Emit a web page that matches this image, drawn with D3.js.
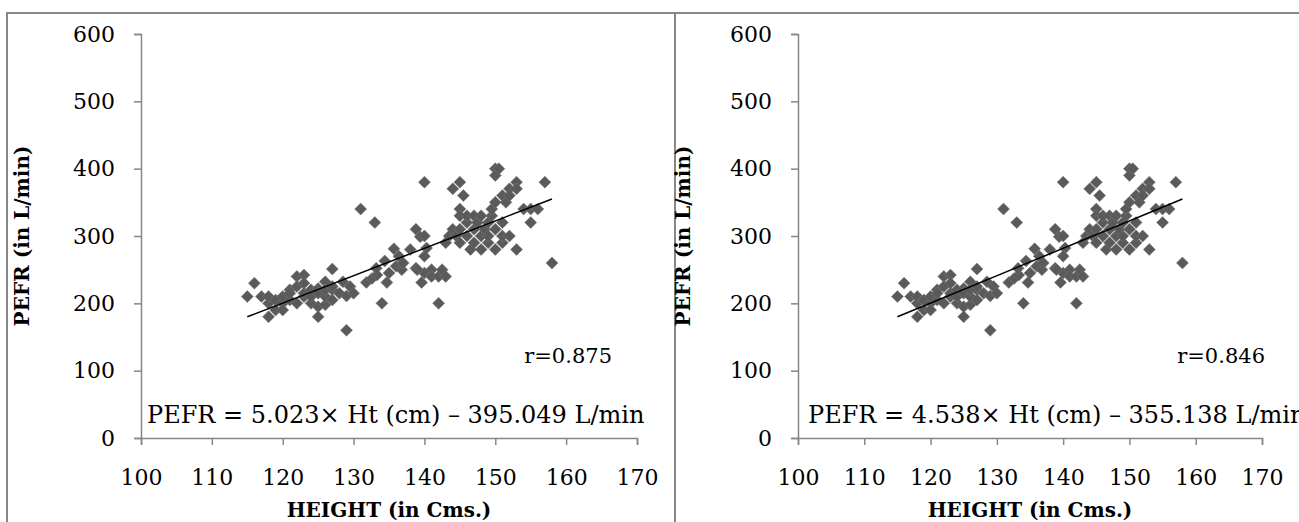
<!DOCTYPE html>
<html>
<head>
<meta charset="utf-8">
<script src="https://cdn.jsdelivr.net/npm/d3@7"></script>
<style>
    body { margin: 0; background: #fff; }
    svg { display: block; }
    text { font-family: "DejaVu Serif", serif; fill: #000; }
    .axis path, .axis line { stroke: #868686; stroke-width: 1.5; }
    .axis text { font-size: 22px; font-family: "DejaVu Serif", serif; }
    .axisLabel { font-size: 20px; font-weight: bold; }
</style>
</head>
<body>
<div id="chart"></div>
<script>

/*
DATA
*/
const heights = [115,116,117,118,118,118,119,119,120,120,120,121,121,121,122,122,122,123,123,123,123,124,124,124,125,125,125,125,126,126,126,126,127,127,127,127,128.5,129,128,129,129.5,130,
    131,131.8,132.6,133,133.3,133.2,134,134.4,134.7,135,135.7,136,136.4,136.8,137,138,138.8,138.8,139.4,139.6,140,140,140.3,140,140,139,
    141,141,142,142,142.5,143,143,143.5,144,144,144.5,145,145,145,145,145,145.5,146,146,146,146.5,147,147,147,147.5,148,148,148,148.5,149,149,149,149.5,149.5,150,150,150,150,150,150.5,151,151,151,151,151.5,152,152,152,153,153,153,154,155,155,156,157,158];
const pefr = [210,230,210,200,180,210,205,190,200,190,210,220,205,215,240,200,225,242,230,210,215,220,200,210,222,215,195,180,232,198,210,220,220,251,205,225,232,160,215,211,225,215,
    340,231,237,320,242,252,200,263,231,245,281,255,270,250,260,280,310,252,299,231,380,300,282,270,245,250,
    250,240,240,200,250,240,290,300,310,370,300,380,340,330,310,290,360,320,300,330,280,330,310,290,320,300,330,280,310,320,290,300,330,340,400,390,350,310,280,400,360,320,290,300,350,370,300,360,380,280,370,340,340,320,340,380,260];

const xTicks = [100,110,120,130,140,150,160,170];
const yTicks = [0,100,200,300,400,500,600];

// trend line end points (height, pefr)
const trendX = [115, 158];
const trendY = [180, 355];

const equations = ["PEFR = 5.023\u00d7 Ht (cm) \u2013 395.049 L/min", "PEFR = 4.538\u00d7 Ht (cm) \u2013 355.138 L/min"];
const rLabels = ["r=0.875", "r=0.846"];

/*
LAYOUT
*/
const width = 1299;
const height = 522;

const panels = [
    {left: 7, right: 675, x0: 141, x1: 637, titleX: 22, eqX: 147, rX: 612},
    {left: 675, right: 1310, x0: 798, x1: 1262, titleX: 683, eqX: 808, rX: 1265}
];
const plotTop = 34, plotBottom = 438;

const svg = d3.select("#chart")
    .append("svg")
    .attr("width", width)
    .attr("height", height);

const data = heights.map(function(h, i) { return {h: h, p: pefr[i]}; });

panels.forEach(function(pn, k) {

    // frame
    svg.append("path")
        .attr("d", `M${pn.left},${height + 5}V13H${pn.right}V${height + 5}`)
        .attr("fill", "none")
        .attr("stroke", "#878787")
        .attr("stroke-width", 2);

    const xScale = d3.scaleLinear()
        .domain([100, 170])
        .range([pn.x0, pn.x1]);

    const yScale = d3.scaleLinear()
        .domain([0, 600])
        .range([plotBottom, plotTop]);

    const xAxis = svg.append("g")
        .attr("class", "axis")
        .attr("transform", `translate(0,${plotBottom})`)
        .call(d3.axisBottom(xScale).tickValues(xTicks).tickSize(7).tickSizeOuter(7).tickPadding(24));

    const yAxis = svg.append("g")
        .attr("class", "axis")
        .attr("transform", `translate(${pn.x0},0)`)
        .call(d3.axisLeft(yScale).tickValues(yTicks).tickSize(7).tickSizeOuter(7).tickPadding(19));

    svg.selectAll(".axis text").attr("fill", "#000");

    // points
    svg.append("g")
        .selectAll("path")
        .data(data)
        .enter()
        .append("path")
            .attr("d", d3.symbol().type(d3.symbolSquare).size(72))
            .attr("transform", function(d) { return `translate(${xScale(d.h)},${yScale(d.p)}) rotate(45)`; })
            .attr("fill", "#5a5a5a")
            .attr("stroke", "#7a7a7a")
            .attr("stroke-width", 0.5);

    // trend line
    svg.append("line")
        .attr("x1", xScale(trendX[0]))
        .attr("y1", yScale(trendY[0]))
        .attr("x2", xScale(trendX[1]))
        .attr("y2", yScale(trendY[1]))
        .attr("stroke", "#000")
        .attr("stroke-width", 1.5);

    // labels
    svg.append("text")
        .attr("class", "axisLabel")
        .attr("text-anchor", "middle")
        .attr("x", (pn.x0 + pn.x1) / 2)
        .attr("y", 517)
        .text("HEIGHT (in Cms.)");

    svg.append("text")
        .attr("class", "axisLabel")
        .attr("text-anchor", "middle")
        .attr("transform", `translate(${pn.titleX + 7},${(plotTop + plotBottom) / 2}) rotate(-90)`)
        .text("PEFR (in L/min)");

    svg.append("text")
        .attr("x", pn.eqX)
        .attr("y", 423)
        .attr("font-size", 24)
        .text(equations[k]);

    svg.append("text")
        .attr("x", pn.rX)
        .attr("y", 363)
        .attr("text-anchor", "end")
        .attr("font-size", 21)
        .text(rLabels[k]);
});

</script>
</body>
</html>
